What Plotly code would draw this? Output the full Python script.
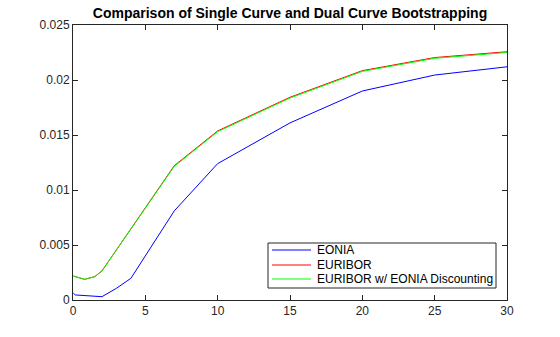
import plotly.graph_objects as go

# Data
eonia_t = [0.02, 0.16, 2, 3, 4, 7, 10, 15, 20, 25, 30]
eonia_v = [0.00063, 0.00046, 0.00030, 0.00106, 0.00197, 0.00810, 0.01240, 0.01610, 0.01900, 0.02045, 0.02120]

euribor_t = [0.02, 0.8, 1.5, 2, 7, 10, 15, 20, 25, 30]
euribor_v = [0.00218, 0.00188, 0.00212, 0.00264, 0.01221, 0.01537, 0.01843, 0.02085, 0.02204, 0.02257]

dual_t = [0.02, 0.8, 1.5, 2, 7, 10, 15, 20, 25, 30]
dual_v = [0.00218, 0.00188, 0.00212, 0.00264, 0.01215, 0.01530, 0.01836, 0.02078, 0.02197, 0.02250]

names = ["EONIA", "EURIBOR", "EURIBOR w/ EONIA Discounting"]
colors = ["#0000FF", "#FF0000", "#00FF00"]

x_ticks = [0, 5, 10, 15, 20, 25, 30]
y_ticks = [0, 0.005, 0.01, 0.015, 0.02, 0.025]
y_tick_text = ["0", "0.005", "0.01", "0.015", "0.02", "0.025"]

font_fam = "Liberation Sans, Arial, sans-serif"
axis_col = "#262626"

# Plot-area geometry in pixels (used for the hand-drawn legend)
W, H = 560, 337
L, R, T, B = 73, 53, 25, 37
PW, PH = W - L - R, H - T - B


def px2x(px):
    return (px - L) / PW


def py2y(py):
    return (H - B - py) / PH


fig = go.Figure()
for t, v, n, c in zip([eonia_t, euribor_t, dual_t], [eonia_v, euribor_v, dual_v], names, colors):
    fig.add_trace(go.Scatter(x=t, y=v, mode="lines", name=n, showlegend=False,
                             line=dict(color=c, width=1)))

axis_common = dict(showgrid=False, zeroline=False, showline=True, linecolor=axis_col,
                   linewidth=1, mirror="ticks", ticks="inside", ticklen=5,
                   tickcolor=axis_col, tickfont=dict(family=font_fam, size=12, color=axis_col))

fig.update_xaxes(range=[0, 30], tickvals=x_ticks, **axis_common)
fig.update_yaxes(range=[0, 0.025], tickvals=y_ticks, ticktext=y_tick_text, **axis_common)

# Legend (MATLAB style, compact rows)
shapes = [dict(type="rect", xref="paper", yref="paper",
               x0=px2x(268), x1=px2x(496), y0=py2y(288), y1=py2y(243),
               line=dict(color=axis_col, width=1), fillcolor="white", layer="above")]
annotations = []
row_y = [250, 265, 279]
for n, c, ry in zip(names, colors, row_y):
    shapes.append(dict(type="line", xref="paper", yref="paper",
                       x0=px2x(272), x1=px2x(311), y0=py2y(ry), y1=py2y(ry),
                       line=dict(color=c, width=1), layer="above"))
    annotations.append(dict(text=n, xref="paper", yref="paper", x=px2x(315), y=py2y(ry),
                            xanchor="left", yanchor="middle", showarrow=False,
                            font=dict(family=font_fam, size=12, color="black")))

fig.update_layout(
    width=W, height=H,
    margin=dict(l=L, r=R, t=T, b=B),
    paper_bgcolor="white", plot_bgcolor="white",
    title=dict(text="<b>Comparison of Single Curve and Dual Curve Bootstrapping</b>",
               x=0.5, xref="paper", xanchor="center", y=1 - 13 / H, yanchor="middle",
               font=dict(family=font_fam, size=14, color="black")),
    showlegend=False,
    shapes=shapes,
    annotations=annotations,
)

fig.write_html("out.html")
